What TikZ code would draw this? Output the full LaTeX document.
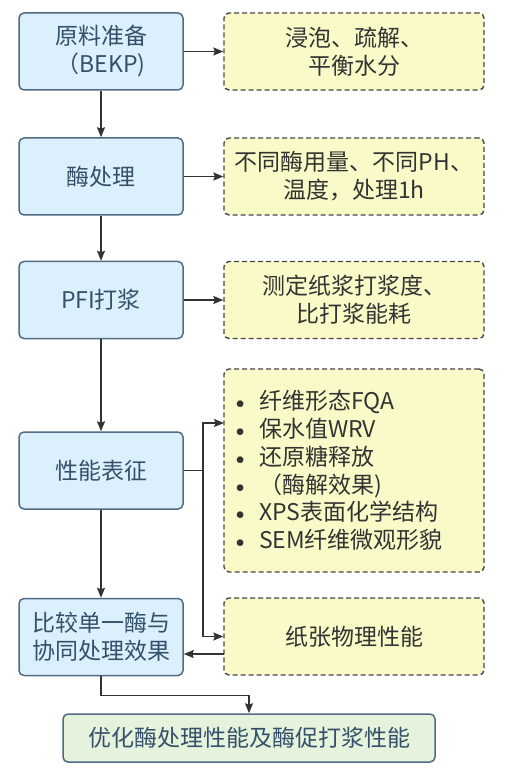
\documentclass[tikz,border=0pt]{standalone}
\usepackage{fontspec}
\newfontfamily\cjk{Noto Sans CJK SC}
\usetikzlibrary{arrows.meta}
\definecolor{bfill}{HTML}{DCEFFC}
\definecolor{bdraw}{HTML}{4F6C84}
\definecolor{btext}{HTML}{34506A}
\definecolor{yfill}{HTML}{FAFAC8}
\definecolor{ydraw}{HTML}{474747}
\definecolor{ytext}{HTML}{333333}
\definecolor{gfill}{HTML}{E5F3DC}
\definecolor{lcol}{HTML}{333333}
\newcommand{\blt}{\makebox[29pt][l]{\hspace*{5.75pt}\raisebox{1pt}{\fontsize{17}{17}\selectfont$\bullet$}}}
\begin{document}
\begin{tikzpicture}[x=1pt,y=-1pt,
  txt/.style={font={\cjk\fontsize{23}{28}\selectfont}},
  bluebox/.style={txt,draw=bdraw,fill=bfill,text=btext,line width=1.5pt,rounded corners=5pt,
    minimum width=164pt,minimum height=77pt,inner sep=0pt,align=center},
  yelbox/.style={txt,draw=ydraw,fill=yfill,text=ytext,line width=1.4pt,rounded corners=5pt,
    dash pattern=on 5pt off 3pt,minimum width=260pt,minimum height=77pt,inner sep=0pt,align=center},
  greenbox/.style={txt,draw=bdraw,fill=gfill,text=btext,line width=1.5pt,rounded corners=5pt,
    minimum width=372pt,minimum height=48pt,inner sep=0pt,align=center},
  conn/.style={draw=lcol,line width=1.4pt},
  arr/.style={conn,-{Stealth[length=10pt,width=8pt,inset=1.5pt]}}
]
\useasboundingbox (0,0) rectangle (509,775);
\fill[white] (0,0) rectangle (509,775);

\node[bluebox] (b1) at (101,51.5) {原料准备\\（BEKP)};
\node[bluebox] (b2) at (101,176.5) {酶处理};
\node[bluebox] (b3) at (101,300) {PFI打浆};
\node[bluebox] (b4) at (101,470.5) {性能表征};
\node[bluebox] (b5) at (101,637) {比较单一酶与\\协同处理效果};

\node[yelbox] (y1) at (354,51.5) {浸泡、疏解、\\平衡水分};
\node[yelbox] (y2) at (354,176.5) {不同酶用量、不同PH、\\温度，处理1h};
\node[yelbox] (y3) at (354,300) {测定纸浆打浆度、\\比打浆能耗};
\node[yelbox,minimum height=203pt,text width=248pt,inner xsep=6pt,align=left,
  font={\cjk\fontsize{23}{27.7}\selectfont}] (y4) at (354,470.5)
  {\blt 纤维形态FQA\\
   \blt 保水值WRV\\
   \blt 还原糖释放\\
   \blt （酶解效果)\\
   \blt XPS表面化学结构\\
   \blt SEM纤维微观形貌};
\node[yelbox] (y5) at (354,636.5) {纸张物理性能};

\node[greenbox] (g) at (249,738) {优化酶处理性能及酶促打浆性能};

\draw[arr] (b1) -- (b2);
\draw[arr] (b2) -- (b3);
\draw[arr] (b3) -- (b4);
\draw[arr] (b4) -- (b5);
\draw[arr] (b1) -- (y1);
\draw[arr] (b2) -- (y2);
\draw[arr] (b3) -- (y3);

\coordinate (jn) at (203,470.5);
\coordinate (y4in) at (224,423);
\coordinate (y5out) at (224,654);
\draw[conn] (b4.east) -- (jn);
\draw[arr] (jn) |- (y4in);
\draw[arr] (jn) |- (y5.west);
\draw[arr] (y5out) -- (y5out -| b5.east);
\draw[arr] (b5.south) -- ++(0,19) -| (g.north);
\end{tikzpicture}
\end{document}
